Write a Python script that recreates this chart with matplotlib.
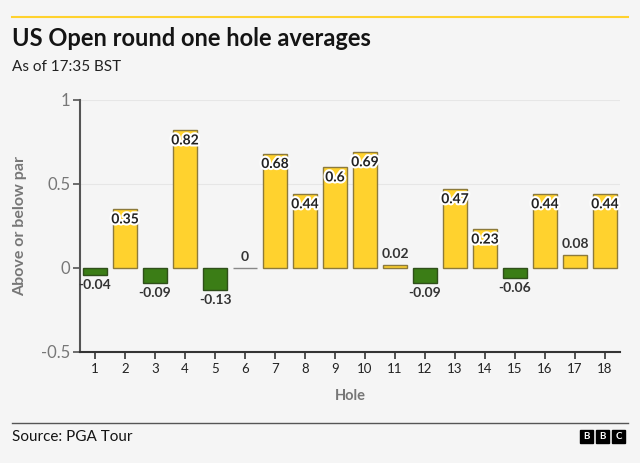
import matplotlib.pyplot as plt
import matplotlib.patheffects as pe
from matplotlib.patches import Rectangle
from matplotlib.lines import Line2D

holes = list(range(1, 19))
averages = [-0.04, 0.35, -0.09, 0.82, -0.13, 0, 0.68, 0.44, 0.6,
            0.69, 0.02, -0.09, 0.47, 0.23, -0.06, 0.44, 0.08, 0.44]
labels = ['-0.04', '0.35', '-0.09', '0.82', '-0.13', '0', '0.68', '0.44', '0.6',
          '0.69', '0.02', '-0.09', '0.47', '0.23', '-0.06', '0.44', '0.08', '0.44']

bg = '#f5f5f5'
yellow = '#ffd22e'
green = '#3b7d16'

plt.rcParams['font.family'] = ['Lato', 'DejaVu Sans']

fig = plt.figure(figsize=(6.4, 4.63), dpi=100, facecolor=bg)
ax = fig.add_axes([80 / 640, 1 - 352 / 463, 540 / 640, 252 / 463])
ax.set_facecolor(bg)

colors = [yellow if v >= 0 else green for v in averages]
edges = ['#8c7a3c' if v > 0 else ('#2f4f1a' if v < 0 else '#888888') for v in averages]
ax.bar(holes, averages, width=0.8, color=colors, edgecolor=edges, linewidth=1.0, zorder=3)

halo = [pe.withStroke(linewidth=3, foreground='white')]
for h, v, t in zip(holes, averages, labels):
    if v >= 0.15:
        ax.text(h, v - 0.025, t, ha='center', va='top', fontsize=10, fontweight='bold',
                color='#222222', path_effects=halo, zorder=4)
    elif v >= 0:
        ax.text(h, v + 0.03, t, ha='center', va='bottom', fontsize=10, fontweight='bold',
                color='#333333', zorder=4)
    else:
        ax.text(h, v - 0.025, t, ha='center', va='top', fontsize=10, fontweight='bold',
                color='#333333', zorder=4)

ax.set_xlim(0.5, 18.5)
ax.set_ylim(-0.5, 1)
ax.set_xticks(holes)
ax.set_xticklabels([str(h) for h in holes], fontsize=9.5, color='#222222')
ax.set_yticks([-0.5, 0, 0.5, 1])
ax.set_yticklabels(['-0.5', '0', '0.5', '1'], fontsize=12, color='#777777')
for y in [0.5, 1]:
    ax.axhline(y, color='#e6e6e6', linewidth=0.8, zorder=1)

for s in ['top', 'right']:
    ax.spines[s].set_visible(False)
ax.spines['left'].set_color('#555555')
ax.spines['left'].set_linewidth(1.5)
ax.spines['bottom'].set_color('#333333')
ax.spines['bottom'].set_linewidth(1.5)
ax.tick_params(axis='y', length=5, width=1.2, color='#555555', pad=2)
ax.tick_params(axis='x', length=5, width=1.2, color='#333333', pad=3)

ax.set_xlabel('Hole', fontsize=10.5, fontweight='bold', color='#777777', labelpad=10)
ax.set_ylabel('Above or below par', fontsize=11.5, fontweight='bold', color='#777777', labelpad=10)

fig.add_artist(Line2D([12 / 640, 628 / 640], [1 - 17 / 463] * 2, color=yellow, linewidth=1.5))
fig.text(12 / 640, 1 - 38 / 463, 'US Open round one hole averages', fontsize=17,
         fontweight='bold', color='#141414', va='center')
fig.text(12 / 640, 1 - 67 / 463, 'As of 17:35 BST', fontsize=11, color='#222222', va='center')

fig.add_artist(Line2D([12 / 640, 628 / 640], [1 - 423 / 463] * 2, color='#555555', linewidth=1))
fig.text(12 / 640, 1 - 437 / 463, 'Source: PGA Tour', fontsize=11, color='#141414', va='center')
for i, letter in enumerate('BBC'):
    x0 = (580 + i * 16) / 640
    fig.add_artist(Rectangle((x0, 1 - 443 / 463), 13 / 640, 13 / 463,
                             transform=fig.transFigure, color='black'))
    fig.text(x0 + 6.5 / 640, 1 - 436.5 / 463, letter, fontsize=7, fontweight='bold',
             color='white', ha='center', va='center')

fig.savefig('out.png', dpi=100, facecolor=bg)
